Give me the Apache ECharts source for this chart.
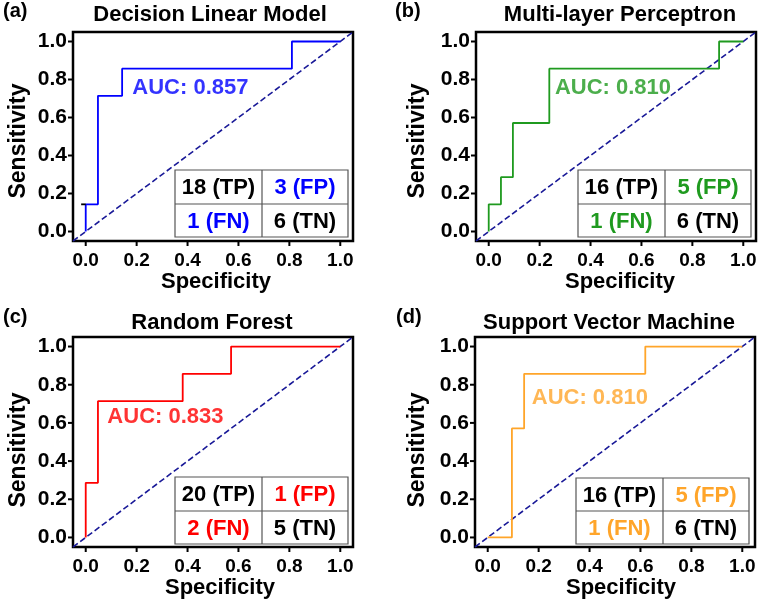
<!DOCTYPE html>
<html>
<head>
<meta charset="utf-8">
<script src="https://cdn.jsdelivr.net/npm/echarts@6/dist/echarts.min.js"></script>
<style>html,body{margin:0;padding:0;background:#fff}#c{width:761px;height:602px}</style>
</head>
<body>
<div id="c"></div>
<script>
// ---- data ----
const titles = ['Decision Linear Model', 'Multi-layer Perceptron', 'Random Forest', 'Support Vector Machine'];
const panelLetters = ['(a)', '(b)', '(c)', '(d)'];
const tickValues = [0, 0.2, 0.4, 0.6, 0.8, 1.0];
const tickLabels = ['0.0', '0.2', '0.4', '0.6', '0.8', '1.0'];

const dlmX = [0, 0, 0.048, 0.048, 0.143, 0.143, 0.81, 0.81, 1.0];
const dlmY = [0, 0.143, 0.143, 0.714, 0.714, 0.857, 0.857, 1.0, 1.0];
const mlpX = [0, 0, 0.048, 0.048, 0.095, 0.095, 0.238, 0.238, 0.905, 0.905, 1.0];
const mlpY = [0, 0.143, 0.143, 0.286, 0.286, 0.571, 0.571, 0.857, 0.857, 1.0, 1.0];
const rfX = [0, 0, 0.048, 0.048, 0.381, 0.381, 0.571, 0.571, 1.0];
const rfY = [0, 0.286, 0.286, 0.714, 0.714, 0.857, 0.857, 1.0, 1.0];
const svmX = [0, 0.095, 0.095, 0.143, 0.143, 0.619, 0.619, 1.0];
const svmY = [0, 0, 0.571, 0.571, 0.857, 0.857, 1.0, 1.0];

const aucText = ['AUC: 0.857', 'AUC: 0.810', 'AUC: 0.833', 'AUC: 0.810'];
const aucPos = [[0.183, 0.758], [0.26, 0.758], [0.085, 0.632], [0.173, 0.733]];

const tpLabels = ['18 (TP)', '16 (TP)', '20 (TP)', '16 (TP)'];
const fpLabels = ['3 (FP)', '5 (FP)', '1 (FP)', '5 (FP)'];
const fnLabels = ['1 (FN)', '1 (FN)', '2 (FN)', '1 (FN)'];
const tnLabels = ['6 (TN)', '6 (TN)', '5 (TN)', '6 (TN)'];

const diagX = [-0.05, 1.05];
const diagY = [-0.05, 1.05];
const dlmMarkX = [-0.018, 0];
const dlmMarkY = [0.143, 0.143];

// ---- styling / layout ----
const colors = ['#0000FF', '#1F9A1F', '#FF0000', '#FFA52A'];
const FONT = '"Liberation Sans", Arial, sans-serif';
const AXMIN = -0.05, AXMAX = 1.05;
const grids = [
  {left: 73, top: 32, width: 280, height: 209},
  {left: 476, top: 32, width: 280, height: 209},
  {left: 73, top: 337, width: 280, height: 210},
  {left: 475, top: 337, width: 280, height: 210}
];
const tables = [
  {x0: 175, x1: 348, xm: 262, y0: 170, y1: 237, ym: 204},
  {x0: 578, x1: 751, xm: 665, y0: 170, y1: 237, ym: 204},
  {x0: 175, x1: 348, xm: 262, y0: 477, y1: 544, ym: 511},
  {x0: 576, x1: 749, xm: 663, y0: 478, y1: 544, ym: 511}
];
const titlePos = [[210, 15], [620, 15], [212, 323], [609, 323]];
const letterPos = [[3, 11], [395, 11], [3, 317], [396, 317]];
const xNamePos = [[216, 282], [620, 282], [220, 588], [621, 588]];
const yNamePos = [[19, 141], [418, 141], [19, 450], [418, 450]];

const curves = [[dlmX, dlmY], [mlpX, mlpY], [rfX, rfY], [svmX, svmY]];
const zip = (a, b) => a.map((v, i) => [v, b[i]]);

const chart = echarts.init(document.getElementById('c'), null, {renderer: 'canvas'});

const gridOpt = grids.map(g => Object.assign({show: true, borderColor: '#000', borderWidth: 2.5, backgroundColor: 'transparent', containLabel: false}, g));
const axisCommon = (type) => ({
  min: AXMIN, max: AXMAX,
  splitLine: {show: false},
  axisLine: {show: false},
  axisTick: {show: false},
  axisLabel: {
    show: true, customValues: tickValues,
    fontFamily: FONT, fontWeight: 'bold', fontSize: type === 'x' ? 19 : 21, color: '#000',
    margin: type === 'x' ? 10 : 6,
    formatter: v => tickLabels[tickValues.findIndex(t => Math.abs(t - v) < 1e-6)] ?? ''
  }
});
const xAxes = grids.map((g, i) => Object.assign({type: 'value', gridIndex: i}, axisCommon('x')));
const yAxes = grids.map((g, i) => Object.assign({type: 'value', gridIndex: i}, axisCommon('y')));

const series = [];
curves.forEach((c, i) => {
  // tick marks through the axis scales
  series.push({
    type: 'custom', xAxisIndex: i, yAxisIndex: i, clip: false, silent: true, animation: false, z: 5,
    data: tickValues.map(v => [v]),
    renderItem: (params, api) => {
      const v = api.value(0);
      const px = api.coord([v, AXMIN]);
      const py = api.coord([AXMIN, v]);
      const st = {stroke: '#000', lineWidth: 2};
      return {type: 'group', children: [
        {type: 'line', shape: {x1: px[0], y1: px[1], x2: px[0], y2: px[1] + 5}, style: st},
        {type: 'line', shape: {x1: py[0], y1: py[1], x2: py[0] - 5, y2: py[1]}, style: st}
      ]};
    }
  });
  series.push({
    type: 'line', xAxisIndex: i, yAxisIndex: i, data: zip(diagX, diagY),
    symbol: 'none', silent: true, animation: false,
    lineStyle: {color: '#1A1A98', width: 1.6, type: [6, 3]}, z: 2
  });
  series.push({
    type: 'line', xAxisIndex: i, yAxisIndex: i, data: zip(c[0], c[1]),
    symbol: 'none', animation: false,
    lineStyle: {color: colors[i], width: 1.8}, z: 3
  });
  series.push({
    type: 'scatter', xAxisIndex: i, yAxisIndex: i, data: [aucPos[i]],
    symbolSize: 0, animation: false, silent: true,
    label: {show: true, position: 'right', distance: 0, formatter: aucText[i], color: colors[i],
      fontFamily: FONT, fontWeight: 'bold', fontSize: 22}
  });
});
series.push({
  type: 'line', xAxisIndex: 0, yAxisIndex: 0, data: zip(dlmMarkX, dlmMarkY),
  symbol: 'none', animation: false, lineStyle: {color: '#000', width: 1.8}, z: 3
});

const graphics = [];
const txt = (x, y, text, opts) => Object.assign({
  type: 'text', x: x, y: y, z: 100,
  style: Object.assign({text: text, fontFamily: FONT, fontWeight: 'bold', fill: '#000', align: 'center', verticalAlign: 'middle'}, opts || {})
});
grids.forEach((g, i) => {
  graphics.push(txt(titlePos[i][0], titlePos[i][1], titles[i], {fontSize: 22}));
  graphics.push(txt(letterPos[i][0], letterPos[i][1], panelLetters[i], {fontSize: 20, align: 'left'}));
  graphics.push(txt(xNamePos[i][0], xNamePos[i][1], 'Specificity', {fontSize: 22}));
  graphics.push(Object.assign(txt(yNamePos[i][0], yNamePos[i][1], 'Sensitivity', {fontSize: 23}), {rotation: Math.PI / 2}));
  const t = tables[i];
  graphics.push({type: 'rect', z: 90, shape: {x: t.x0, y: t.y0, width: t.x1 - t.x0, height: t.y1 - t.y0},
    style: {fill: '#fff', stroke: '#555', lineWidth: 1.2}});
  graphics.push({type: 'line', z: 91, shape: {x1: t.xm, y1: t.y0, x2: t.xm, y2: t.y1}, style: {stroke: '#555', lineWidth: 1.2}});
  graphics.push({type: 'line', z: 91, shape: {x1: t.x0, y1: t.ym, x2: t.x1, y2: t.ym}, style: {stroke: '#555', lineWidth: 1.2}});
  const cx1 = (t.x0 + t.xm) / 2, cx2 = (t.xm + t.x1) / 2;
  const cy1 = (t.y0 + t.ym) / 2 + 1, cy2 = (t.ym + t.y1) / 2 + 1;
  graphics.push(txt(cx1, cy1, tpLabels[i], {fontSize: 22}));
  graphics.push(txt(cx2, cy1, fpLabels[i], {fontSize: 22, fill: colors[i]}));
  graphics.push(txt(cx1, cy2, fnLabels[i], {fontSize: 22, fill: colors[i]}));
  graphics.push(txt(cx2, cy2, tnLabels[i], {fontSize: 22}));
});

chart.setOption({
  animation: false,
  backgroundColor: '#fff',
  grid: gridOpt,
  xAxis: xAxes,
  yAxis: yAxes,
  series: series,
  graphic: graphics
});
</script>
</body>
</html>
